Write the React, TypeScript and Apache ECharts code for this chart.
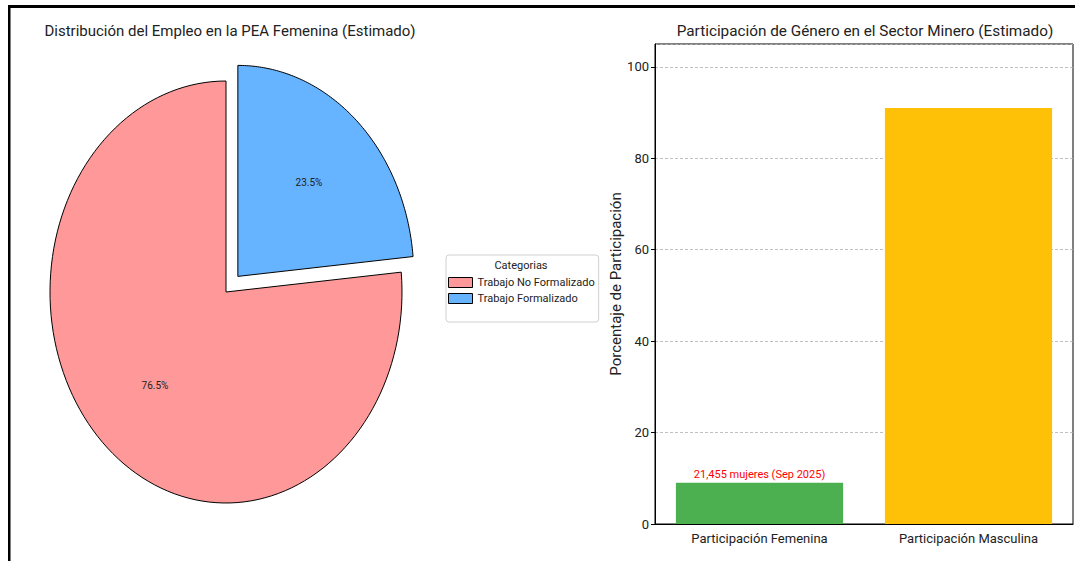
import React, { useEffect, useRef } from "react";
import * as echarts from "echarts";

// ---- Data ----
const pieCategories = ["Trabajo No Formalizado", "Trabajo Formalizado"];
const pieShares = [76.5, 23.5];
const pieExplode = [0, 0.1];
const pieColors = ["#ff9999", "#66b3ff"];

const barCategories = ["Participación Femenina", "Participación Masculina"];
const barValues = [9, 91];
const barColors = ["#4caf50", "#ffc107"];
const barAnnotations = ["21,455 mujeres (Sep 2025)", ""];

const pieTitle = "Distribución del Empleo en la PEA Femenina (Estimado)";
const barTitle = "Participación de Género en el Sector Minero (Estimado)";
const legendTitle = "Categorias";
const yAxisName = "Porcentaje de Participación";

// ---- Layout ----
const FONT = "Roboto, 'Noto Sans', sans-serif";
const PIE_CX = 226;
const PIE_CY = 292;
const PIE_RX = 176;
const PIE_RY = 211;
const PIE_START = 90;

function makePieRender(i: number) {
  return (params: any, api: any) => {
    const total = pieShares.reduce((a, b) => a + b, 0);
    const before = pieShares.slice(0, i).reduce((a, b) => a + b, 0);
    const a0 = PIE_START + (before / total) * 360;
    const a1 = a0 + (api.value(0) / total) * 360;
    const mid = (((a0 + a1) / 2) * Math.PI) / 180;
    const off = pieExplode[i];
    const cx = PIE_CX + off * PIE_RX * Math.cos(mid);
    const cy = PIE_CY - off * PIE_RY * Math.sin(mid);
    const pts: number[][] = [[cx, cy]];
    const N = 120;
    for (let k = 0; k <= N; k++) {
      const a = ((a0 + ((a1 - a0) * k) / N) * Math.PI) / 180;
      pts.push([cx + PIE_RX * Math.cos(a), cy - PIE_RY * Math.sin(a)]);
    }
    return {
      type: "group",
      children: [
        {
          type: "polygon",
          shape: { points: pts },
          style: { fill: pieColors[i], stroke: "#000", lineWidth: 1 },
        },
        {
          type: "text",
          x: cx + 0.6 * PIE_RX * Math.cos(mid),
          y: cy - 0.6 * PIE_RY * Math.sin(mid),
          style: {
            text: api.value(0).toFixed(1) + "%",
            fill: "#222",
            font: `10px ${FONT}`,
            align: "center",
            verticalAlign: "middle",
          },
        },
      ],
    };
  };
}

export default function App() {
  const ref = useRef<HTMLDivElement>(null);
  useEffect(() => {
    document.body.style.margin = "0";
    const chart = echarts.init(ref.current!, null, { renderer: "svg" });
    const pieSeries = pieCategories.map((name, i) => ({
      type: "custom",
      name,
      coordinateSystem: "none",
      itemStyle: { color: pieColors[i], borderColor: "#000", borderWidth: 1 },
      renderItem: makePieRender(i),
      data: [[pieShares[i]]],
      z: 2,
    }));
    chart.setOption({
      animation: false,
      textStyle: { fontFamily: FONT },
      graphic: [
        { type: "rect", shape: { x: 8, y: 5, width: 1067, height: 3 }, style: { fill: "#000" } },
        { type: "rect", shape: { x: 8, y: 5, width: 2.5, height: 556 }, style: { fill: "#000" } },
        {
          type: "text",
          x: 230,
          y: 31,
          style: { text: pieTitle, font: `15px ${FONT}`, fill: "#222", align: "center", verticalAlign: "middle" },
        },
        {
          type: "text",
          x: 865,
          y: 31,
          style: { text: barTitle, font: `15.3px ${FONT}`, fill: "#222", align: "center", verticalAlign: "middle" },
        },
        {
          type: "text",
          x: 521,
          y: 265,
          z: 100,
          style: { text: legendTitle, font: `11px ${FONT}`, fill: "#222", align: "center", verticalAlign: "middle" },
        },
      ],
      legend: {
        data: pieCategories,
        orient: "vertical",
        left: 446,
        top: 255,
        padding: [22, 4, 18, 2],
        itemWidth: 24,
        itemHeight: 10,
        itemGap: 5,
        itemTextGap: 8,
        icon: "rect",
        borderColor: "#d0d0d0",
        borderWidth: 1,
        borderRadius: 3,
        backgroundColor: "#fff",
        itemStyle: { borderColor: "#000", borderWidth: 1 },
        textStyle: { fontSize: 11, color: "#222", fontFamily: FONT },
        selectedMode: false,
      },
      grid: {
        left: 655,
        right: 2,
        top: 44,
        bottom: 37,
        show: true,
        borderColor: "#000",
        borderWidth: 1,
        backgroundColor: "transparent",
      },
      xAxis: {
        type: "category",
        data: barCategories,
        axisLine: { lineStyle: { color: "#000", width: 1 } },
        axisTick: { alignWithLabel: true, length: 4, lineStyle: { color: "#000" } },
        axisLabel: { fontSize: 13, color: "#222", margin: 8, fontFamily: FONT },
      },
      yAxis: {
        type: "value",
        min: 0,
        max: 105,
        interval: 20,
        name: yAxisName,
        nameLocation: "middle",
        nameGap: 32,
        nameRotate: 90,
        nameTextStyle: { fontSize: 15, color: "#222", fontFamily: FONT },
        axisLine: { show: true, lineStyle: { color: "#000", width: 1 } },
        axisTick: { show: true, length: 4, lineStyle: { color: "#000" } },
        axisLabel: { fontSize: 13, color: "#222", margin: 6, showMaxLabel: false, fontFamily: FONT },
        splitLine: { show: true, lineStyle: { color: "#b0b0b0", type: [3, 2], width: 0.8 } },
      },
      series: [
        ...pieSeries,
        {
          type: "bar",
          name: "barras",
          barWidth: "80%",
          data: barValues.map((v, i) => ({
            value: v,
            itemStyle: { color: barColors[i] },
            label: {
              show: barAnnotations[i] !== "",
              position: "top",
              distance: 3,
              formatter: barAnnotations[i],
              color: "#ff0000",
              fontSize: 11,
              fontFamily: FONT,
            },
          })),
        },
      ],
    });
    return () => chart.dispose();
  }, []);
  return <div ref={ref} style={{ width: 1075, height: 561 }} />;
}
